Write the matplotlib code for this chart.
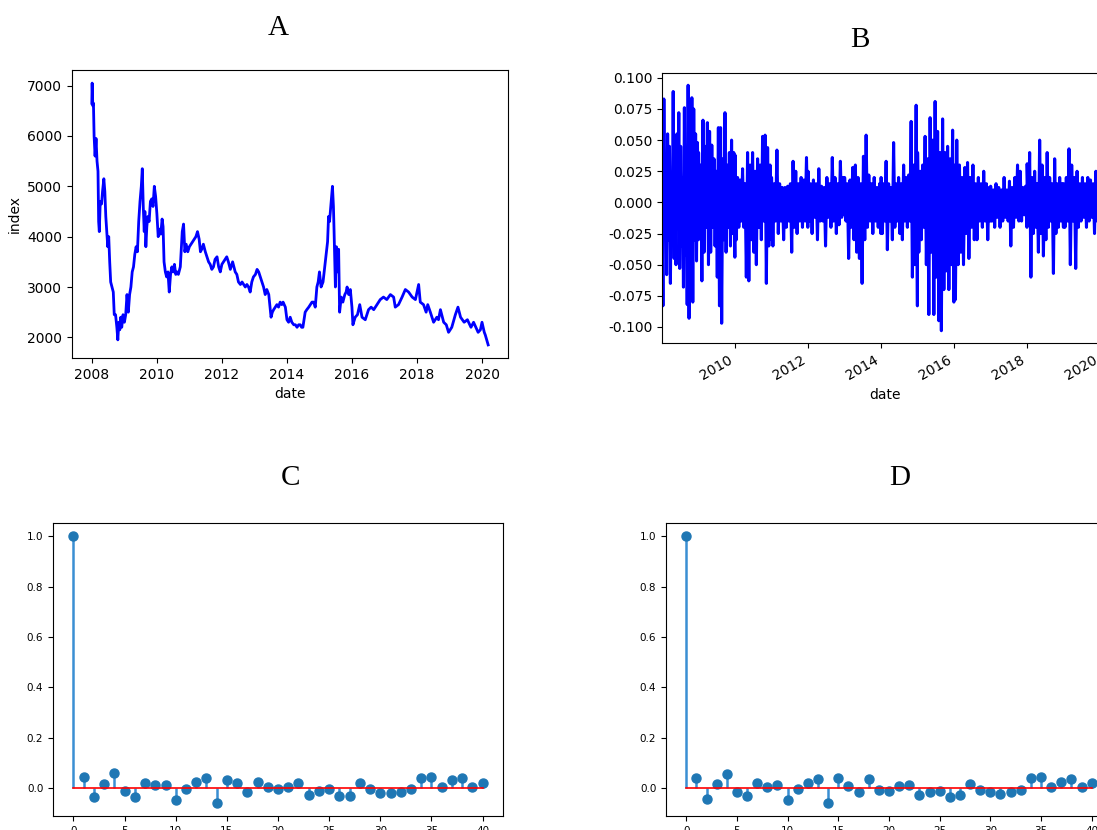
import datetime as dt
import numpy as np
import pandas as pd
import matplotlib
matplotlib.use("Agg")
import matplotlib.pyplot as plt
import matplotlib.dates as mdates

# ---------------- Panel A: index level (decimal year, value) ----------------
a_t = [2008.00, 2008.01, 2008.03, 2008.05, 2008.07, 2008.10, 2008.13, 2008.16, 2008.19, 2008.21,
       2008.23, 2008.26, 2008.30, 2008.33, 2008.37, 2008.40, 2008.43, 2008.46, 2008.49, 2008.52,
       2008.55, 2008.58, 2008.62, 2008.66, 2008.69, 2008.73, 2008.77, 2008.80, 2008.83, 2008.86,
       2008.89, 2008.92, 2008.96, 2009.00, 2009.04, 2009.08, 2009.12, 2009.16, 2009.20, 2009.24,
       2009.28, 2009.32, 2009.36, 2009.40, 2009.44, 2009.48, 2009.52, 2009.55, 2009.58, 2009.61,
       2009.63, 2009.66, 2009.69, 2009.72, 2009.76, 2009.80, 2009.84, 2009.88, 2009.92, 2009.96,
       2010.00, 2010.04, 2010.08, 2010.12, 2010.16, 2010.19, 2010.22, 2010.26, 2010.30, 2010.34,
       2010.38, 2010.42, 2010.46, 2010.50, 2010.54, 2010.58, 2010.62, 2010.66, 2010.72, 2010.78,
       2010.82, 2010.86, 2010.90, 2010.95, 2011.00, 2011.05, 2011.10, 2011.15, 2011.20, 2011.25,
       2011.30, 2011.34, 2011.38, 2011.43, 2011.49, 2011.54, 2011.59, 2011.64, 2011.69, 2011.74,
       2011.79, 2011.85, 2011.90, 2011.95, 2012.00, 2012.05, 2012.10, 2012.15, 2012.20, 2012.26,
       2012.33, 2012.41, 2012.46, 2012.51, 2012.57, 2012.62, 2012.67, 2012.72, 2012.77, 2012.82,
       2012.87, 2012.92, 2012.97, 2013.03, 2013.08, 2013.13, 2013.18, 2013.23, 2013.28, 2013.33,
       2013.38, 2013.44, 2013.51, 2013.55, 2013.59, 2013.64, 2013.69, 2013.74, 2013.79, 2013.84,
       2013.88, 2013.95, 2014.00, 2014.05, 2014.10, 2014.15, 2014.21, 2014.26, 2014.31, 2014.36,
       2014.41, 2014.45, 2014.49, 2014.56, 2014.61, 2014.67, 2014.72, 2014.77, 2014.82, 2014.87,
       2014.92, 2014.96, 2015.00, 2015.05, 2015.11, 2015.18, 2015.25, 2015.28, 2015.31, 2015.35,
       2015.40, 2015.43, 2015.45, 2015.49, 2015.52, 2015.56, 2015.59, 2015.62, 2015.67, 2015.72,
       2015.78, 2015.82, 2015.85, 2015.90, 2015.95, 2016.00, 2016.03, 2016.10, 2016.17, 2016.24,
       2016.31, 2016.41, 2016.51, 2016.59, 2016.67, 2016.77, 2016.87, 2016.97, 2017.07, 2017.18,
       2017.28, 2017.33, 2017.43, 2017.54, 2017.64, 2017.74, 2017.85, 2017.95, 2018.00, 2018.05,
       2018.10, 2018.20, 2018.28, 2018.33, 2018.41, 2018.51, 2018.61, 2018.66, 2018.72, 2018.82,
       2018.90, 2018.97, 2019.07, 2019.18, 2019.26, 2019.34, 2019.45, 2019.55, 2019.66, 2019.74,
       2019.81, 2019.88, 2019.95, 2020.00, 2020.07, 2020.10, 2020.19]
a_v = [6650, 7050, 6600, 6650, 6000, 5600, 5950, 5500, 5300, 4300,
       4100, 4700, 4650, 4900, 5150, 4900, 4400, 4100, 3800, 4000,
       3500, 3100, 3000, 2900, 2450, 2450, 2200, 1950, 2300, 2150,
       2400, 2200, 2450, 2300, 2450, 2850, 2500, 2850, 3000, 3300,
       3400, 3650, 3800, 3700, 4300, 4700, 5000, 5350, 4600, 4100,
       4500, 3800, 4200, 4400, 4300, 4700, 4750, 4600, 5000, 4800,
       4450, 4000, 4150, 4050, 4350, 4200, 3500, 3300, 3200, 3300,
       2900, 3250, 3400, 3300, 3450, 3250, 3300, 3250, 3400, 4100,
       4250, 3700, 3850, 3700, 3800, 3850, 3900, 3950, 4000, 4100,
       3950, 3700, 3750, 3850, 3700, 3600, 3500, 3450, 3350, 3400,
       3550, 3600, 3400, 3300, 3450, 3500, 3550, 3600, 3500, 3350,
       3500, 3300, 3250, 3100, 3050, 3100, 3050, 3000, 3050, 3000,
       2900, 3100, 3200, 3250, 3350, 3300, 3200, 3100, 3000, 2850,
       2950, 2850, 2400, 2500, 2550, 2600, 2650, 2600, 2700, 2650,
       2700, 2600, 2350, 2300, 2400, 2300, 2250, 2250, 2200, 2250,
       2250, 2200, 2200, 2500, 2550, 2600, 2650, 2700, 2700, 2600,
       3000, 3100, 3300, 3000, 3100, 3500, 3900, 4400, 4300, 4600,
       5000, 4600, 4100, 3000, 3800, 3300, 3750, 2500, 2800, 2700,
       2850, 2900, 3000, 2850, 2950, 2600, 2250, 2400, 2450, 2650,
       2400, 2350, 2550, 2600, 2550, 2650, 2750, 2800, 2750, 2850,
       2800, 2600, 2650, 2800, 2950, 2900, 2800, 2750, 2900, 3050,
       2700, 2650, 2500, 2650, 2500, 2300, 2400, 2350, 2550, 2300,
       2250, 2100, 2200, 2450, 2600, 2400, 2300, 2350, 2200, 2300,
       2200, 2100, 2150, 2300, 2100, 2050, 1850]

# ---------------- Panel B: daily returns, read year by year ----------------
ret_2008 = [0.038, -0.083, 0.083, -0.02, 0.025, -0.058, 0.055, -0.03, 0.045, -0.065,
            0.02, -0.03, 0.089, -0.045, 0.03, -0.05, 0.055, -0.02, 0.072, -0.053,
            0.045, -0.035, 0.02, -0.068, 0.076, -0.042, 0.03, -0.082, 0.094, -0.093,
            0.035, -0.04, 0.084, -0.08, 0.075, -0.03, 0.055, -0.047, 0.048, -0.03]
ret_2009 = [0.04, -0.025, 0.03, -0.063, 0.066, -0.04, 0.045, -0.02, 0.064, -0.05,
            0.057, -0.04, 0.046, -0.02, 0.035, -0.035, 0.025, -0.06, 0.06, -0.083,
            0.06, -0.097, 0.035, -0.03, 0.072, -0.04, 0.03, -0.02, 0.04, -0.035,
            0.05, -0.025, 0.04, -0.044]
ret_2010 = [0.038, -0.03, 0.02, -0.02, 0.018, -0.015, 0.027, -0.02, 0.015, -0.06,
            0.04, -0.063, 0.03, -0.03, 0.04, -0.04, 0.025, -0.05, 0.035, -0.02,
            0.03, -0.03, 0.053, -0.015, 0.054, -0.065, 0.044, -0.035, 0.03, -0.03]
ret_2011 = [0.02, -0.035, 0.015, -0.015, 0.042, -0.025, 0.015, -0.015, 0.012, -0.03,
            0.012, -0.02, 0.013, -0.015, 0.015, -0.04, 0.033, -0.02, 0.025, -0.025,
            0.015, -0.015, 0.02, -0.02, 0.018, -0.015, 0.036, -0.02]
ret_2012 = [0.025, -0.015, 0.015, -0.025, 0.018, -0.012, 0.015, -0.03, 0.027, -0.015,
            0.013, -0.015, 0.012, -0.035, 0.02, -0.012, 0.015, -0.02, 0.036, -0.015,
            0.02, -0.025, 0.015, -0.018, 0.033, -0.012, 0.02, -0.01]
ret_2013 = [0.02, -0.015, 0.015, -0.045, 0.018, -0.02, 0.028, -0.03, 0.03, -0.04,
            0.02, -0.045, 0.015, -0.065, 0.037, -0.03, 0.054, -0.02, 0.022, -0.015,
            0.015, -0.025, 0.02, -0.015, 0.012, -0.02, 0.015, -0.025]
ret_2014 = [0.02, -0.025, 0.015, -0.015, 0.033, -0.038, 0.015, -0.015, 0.012, -0.03,
            0.048, -0.02, 0.015, -0.015, 0.02, -0.025, 0.015, -0.03, 0.03, -0.015,
            0.02, -0.02, 0.022, -0.015, 0.065, -0.06, 0.03, -0.05, 0.078, -0.083]
ret_2015 = [0.04, -0.04, 0.025, -0.03, 0.03, -0.02, 0.053, -0.05, 0.035, -0.09,
            0.068, -0.04, 0.05, -0.09, 0.081, -0.06, 0.057, -0.095, 0.04, -0.103,
            0.067, -0.07, 0.04, -0.055, 0.045, -0.07, 0.035, -0.05, 0.058, -0.08]
ret_2016 = [0.03, -0.078, 0.05, -0.05, 0.03, -0.04, 0.02, -0.05, 0.028, -0.025,
            0.032, -0.045, 0.02, -0.02, 0.03, -0.03, 0.015, -0.03, 0.02, -0.015,
            0.015, -0.02, 0.025, -0.015, 0.015, -0.03, 0.012, -0.015]
ret_2017 = [0.013, -0.015, 0.01, -0.02, 0.015, -0.012, 0.012, -0.02, 0.01, -0.015,
            0.02, -0.012, 0.01, -0.015, 0.017, -0.035, 0.012, -0.02, 0.02, -0.012,
            0.03, -0.015, 0.025, -0.015, 0.012, -0.01, 0.013, -0.02]
ret_2018 = [0.031, -0.015, 0.04, -0.06, 0.02, -0.025, 0.025, -0.02, 0.015, -0.04,
            0.05, -0.025, 0.03, -0.043, 0.02, -0.03, 0.04, -0.02, 0.02, -0.015,
            0.015, -0.057, 0.035, -0.025, 0.015, -0.02, 0.02, -0.015, 0.015, -0.02]
ret_2019 = [0.015, -0.02, 0.02, -0.015, 0.043, -0.05, 0.03, -0.015, 0.02, -0.053,
            0.025, -0.02, 0.015, -0.015, 0.02, -0.012, 0.015, -0.02, 0.02, -0.015,
            0.018, -0.012, 0.015, -0.025, 0.025, -0.015, 0.012, -0.015]
ret_2020 = [0.02, -0.02, 0.015, -0.03, 0.012, -0.02, 0.02]
ret_years = [2008, 2009, 2010, 2011, 2012, 2013, 2014, 2015, 2016, 2017, 2018, 2019, 2020]
ret_by_year = [ret_2008, ret_2009, ret_2010, ret_2011, ret_2012, ret_2013, ret_2014,
               ret_2015, ret_2016, ret_2017, ret_2018, ret_2019, ret_2020]

# ---------------- Panels C, D: autocorrelation, lags 0..40 ----------------
lags = list(range(41))
acf_c = [1.0, 0.044, -0.036, 0.016, 0.059, -0.013, -0.036, 0.018, 0.013, 0.011,
         -0.050, -0.003, 0.025, 0.038, -0.059, 0.032, 0.021, -0.015, 0.025, 0.004,
         -0.003, 0.005, 0.018, -0.029, -0.013, -0.005, -0.033, -0.033, 0.018, -0.003,
         -0.022, -0.022, -0.015, -0.003, 0.038, 0.045, 0.003, 0.032, 0.038, 0.003, 0.021]
acf_d = [1.0, 0.042, -0.042, 0.017, 0.054, -0.017, -0.030, 0.020, 0.005, 0.012,
         -0.049, -0.004, 0.020, 0.037, -0.058, 0.040, 0.009, -0.017, 0.037, -0.008,
         -0.012, 0.008, 0.013, -0.029, -0.015, -0.012, -0.036, -0.026, 0.017, -0.008,
         -0.017, -0.024, -0.015, -0.008, 0.040, 0.044, 0.003, 0.026, 0.037, 0.003, 0.020]

panel_titles = ["A", "B", "C", "D"]


def to_date(t):
    y = int(t)
    return dt.datetime(y, 1, 1) + dt.timedelta(days=(t - y) * 365.25)


W, H = 1097, 830
fig = plt.figure(figsize=(W / 100, H / 100), dpi=100)


def px_axes(left, top, right, bottom):
    return fig.add_axes([left / W, 1 - bottom / H, (right - left) / W, (bottom - top) / H])


# ---- A ----
axA = px_axes(72, 70, 508, 358)
a_dates = [to_date(t) for t in a_t]
axA.plot(a_dates, a_v, color="blue", lw=2.0)
axA.xaxis.set_major_locator(mdates.YearLocator(2))
axA.xaxis.set_major_formatter(mdates.DateFormatter("%Y"))
axA.set_xlabel("date")
axA.set_ylabel("index")

# ---- B ----
axB = px_axes(662, 73, 1109, 343)
b_dates = []
b_vals = []
for y, vals in zip(ret_years, ret_by_year):
    end = "2020-03-31" if y == 2020 else f"{y}-12-31"
    b_dates.extend(pd.date_range(f"{y}-01-02", end, periods=len(vals)))
    b_vals.extend(vals)
axB.plot(b_dates, b_vals, color="blue", lw=2.2)
axB.set_xlim(b_dates[0], b_dates[-1])
axB.xaxis.set_major_locator(mdates.YearLocator(2))
axB.xaxis.set_major_formatter(mdates.DateFormatter("%Y"))
axB.set_yticks([-0.100, -0.075, -0.050, -0.025, 0.0, 0.025, 0.050, 0.075, 0.100])
axB.yaxis.set_major_formatter(matplotlib.ticker.FormatStrFormatter("%.3f"))
for lab in axB.get_xticklabels():
    lab.set_rotation(30)
    lab.set_ha("right")
axB.set_xlabel("date")

# ---- C, D ----
for (l, r), acf in [((53, 503), acf_c), ((666, 1112), acf_d)]:
    ax = px_axes(l, 523, r, 816)
    ml, sl, bl = ax.stem(lags, acf, linefmt="-", markerfmt="o", basefmt="r-")
    ml.set_color("#1f77b4")
    ml.set_markersize(6.5)
    sl.set_color("#3a8fd3")
    sl.set_linewidth(1.8)
    bl.set_linewidth(1.2)
    ax.set_xticks([0, 5, 10, 15, 20, 25, 30, 35, 40])
    ax.set_yticks([0.0, 0.2, 0.4, 0.6, 0.8, 1.0])
    ax.tick_params(labelsize=7.5)

# ---- titles ----
for txt, (x, y) in zip(panel_titles, [(278, 28), (860, 40), (290, 478), (900, 478)]):
    fig.text(x / W, 1 - y / H, txt, ha="center", va="center",
             fontsize=21, family="Liberation Serif")

fig.savefig("out.png", dpi=100)
